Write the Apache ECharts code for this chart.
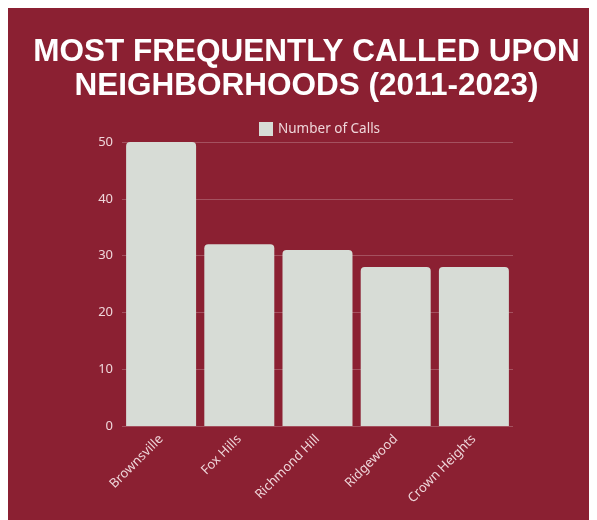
<!DOCTYPE html>
<html>
<head>
<meta charset="utf-8">
<script src="https://cdn.jsdelivr.net/npm/echarts@6/dist/echarts.min.js"></script>
<style>
  html, body { margin: 0; padding: 0; background: #ffffff; }
  body { margin: 8px; }
  #chart { width: 597px; height: 520px; background: #8b2032; }
</style>
</head>
<body>
<div id="chart"></div>
<script>
const categories = ['Brownsville', 'Fox Hills', 'Richmond Hill', 'Ridgewood', 'Crown Heights'];
const calls = [50, 32, 31, 28, 28];
const seriesName = 'Number of Calls';
const titleText = 'MOST FREQUENTLY CALLED UPON\nNEIGHBORHOODS (2011-2023)';

const chart = echarts.init(document.getElementById('chart'), null, { renderer: 'canvas' });
chart.setOption({
  backgroundColor: '#8b2032',
  animation: false,
  title: {
    text: titleText,
    left: 'center',
    top: 22,
    textStyle: {
      color: '#ffffff',
      fontFamily: 'Liberation Sans',
      fontWeight: 'bold',
      fontSize: 31.5,
      lineHeight: 34
    }
  },
  legend: {
    data: [seriesName],
    top: 109,
    left: 246,
    itemWidth: 14,
    itemHeight: 14,
    itemGap: 7,
    icon: 'rect',
    textStyle: { color: '#efd6da', fontFamily: 'Noto Sans', fontSize: 13.5 }
  },
  grid: { left: 114, right: 92, top: 134, bottom: 102, containLabel: false },
  xAxis: {
    type: 'category',
    data: categories,
    axisLine: { show: false },
    axisTick: { show: false },
    axisLabel: {
      rotate: 45,
      color: '#efd6da',
      fontFamily: 'Noto Sans',
      fontSize: 13,
      margin: 11
    }
  },
  yAxis: {
    type: 'value',
    min: 0,
    max: 50,
    interval: 10,
    axisLine: { show: false },
    axisTick: { show: false },
    splitLine: { lineStyle: { color: 'rgba(255,255,255,0.22)', width: 1 } },
    axisLabel: { color: '#efd6da', fontFamily: 'Noto Sans', fontSize: 13, margin: 9 }
  },
  series: [{
    name: seriesName,
    type: 'bar',
    data: calls,
    barCategoryGap: '10.5%',
    itemStyle: { color: '#d7dcd6', borderRadius: [4, 4, 0, 0] }
  }]
});
</script>
</body>
</html>
